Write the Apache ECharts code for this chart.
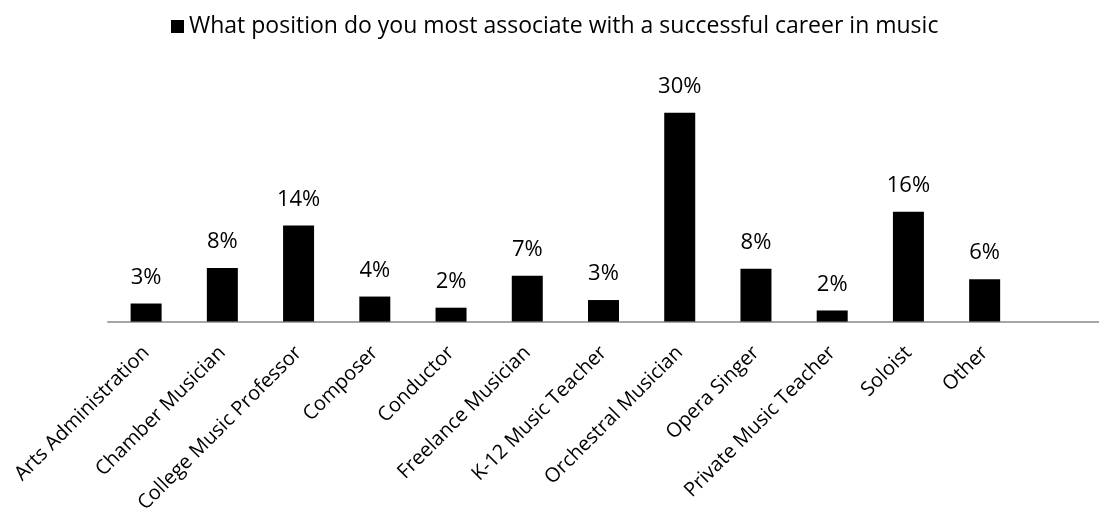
<!DOCTYPE html>
<html>
<head>
<meta charset="utf-8">
<script src="https://cdn.jsdelivr.net/npm/echarts@6/dist/echarts.min.js"></script>
<style>
  html, body { margin: 0; padding: 0; background: #fff; }
  #chart { width: 1099px; height: 516px; }
</style>
</head>
<body>
<div id="chart"></div>
<script>
const seriesName = 'What position do you most associate with a successful career in music';
const categories = [
  'Arts Administration', 'Chamber Musician', 'College Music Professor', 'Composer',
  'Conductor', 'Freelance Musician', 'K-12 Music Teacher', 'Orchestral Musician',
  'Opera Singer', 'Private Music Teacher', 'Soloist', 'Other'
];
// percent of respondents
const shares = [2.6, 7.7, 13.8, 3.6, 2.0, 6.6, 3.1, 30.0, 7.6, 1.6, 15.8, 6.1];

const font = 'Open Sans';
const chart = echarts.init(document.getElementById('chart'));
chart.setOption({
  animation: false,
  textStyle: { fontFamily: font },
  legend: {
    top: 10,
    left: 166,
    itemWidth: 13,
    itemHeight: 13,
    itemGap: 6,
    icon: 'rect',
    textStyle: { fontSize: 23, color: '#000', fontFamily: font }
  },
  grid: { left: 108, right: -10, top: 92, bottom: 194 },
  xAxis: {
    type: 'category',
    data: categories,
    max: 12,
    axisLine: { lineStyle: { color: '#a6a6a6', width: 2 } },
    axisTick: { show: false },
    axisLabel: {
      interval: 0,
      rotate: 45,
      margin: 28,
      fontSize: 20,
      color: '#000',
      fontFamily: font
    }
  },
  yAxis: {
    type: 'value',
    min: 0,
    max: 33,
    show: false,
    splitLine: { show: false }
  },
  series: [{
    name: seriesName,
    type: 'bar',
    data: shares,
    barWidth: 31,
    itemStyle: { color: '#000' },
    label: {
      show: true,
      position: 'top',
      distance: 15,
      fontSize: 22,
      color: '#000',
      fontFamily: font,
      formatter: p => Math.round(p.value) + '%'
    }
  }]
});
</script>
</body>
</html>
